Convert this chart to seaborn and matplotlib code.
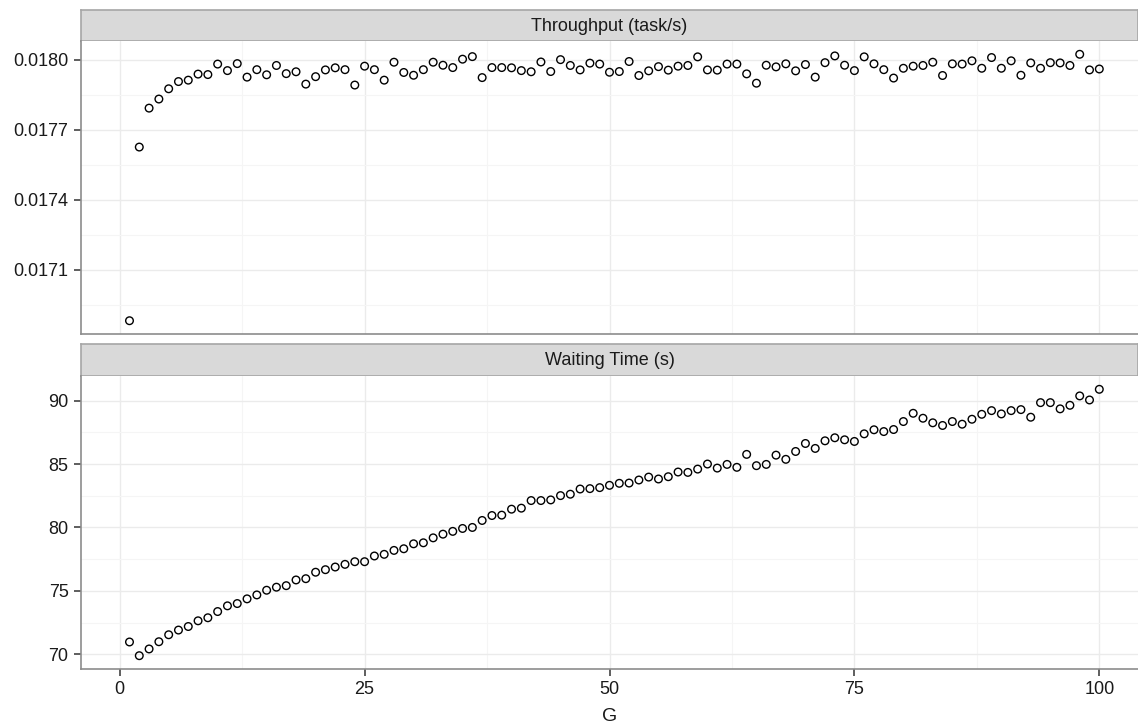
import matplotlib
matplotlib.use("Agg")
import matplotlib.pyplot as plt
import seaborn as sns
import numpy as np
import pandas as pd
from matplotlib.ticker import FixedLocator, FormatStrFormatter

G = list(range(1, 101))

throughput = [
    0.016881, 0.017626, 0.017793, 0.017832, 0.017876, 0.017907, 0.017913, 0.017939, 0.017937, 0.017982,
    0.017954, 0.017984, 0.017926, 0.017958, 0.017936, 0.017976, 0.017941, 0.017949, 0.017896, 0.017928,
    0.017957, 0.017966, 0.017958, 0.017892, 0.017973, 0.017958, 0.017913, 0.017990, 0.017946, 0.017934,
    0.017958, 0.017990, 0.017977, 0.017967, 0.018003, 0.018014, 0.017924, 0.017967, 0.017967, 0.017966,
    0.017954, 0.017949, 0.017991, 0.017950, 0.018001, 0.017976, 0.017957, 0.017986, 0.017982, 0.017947,
    0.017950, 0.017993, 0.017933, 0.017953, 0.017971, 0.017956, 0.017973, 0.017976, 0.018013, 0.017957,
    0.017956, 0.017982, 0.017982, 0.017940, 0.017900, 0.017977, 0.017970, 0.017983, 0.017953, 0.017980,
    0.017926, 0.017988, 0.018017, 0.017977, 0.017954, 0.018013, 0.017983, 0.017958, 0.017922, 0.017964,
    0.017973, 0.017976, 0.017990, 0.017933, 0.017983, 0.017982, 0.017996, 0.017964, 0.018010, 0.017964,
    0.017996, 0.017934, 0.017987, 0.017964, 0.017988, 0.017987, 0.017976, 0.018024, 0.017957, 0.017961,
]

waiting = [
    70.97, 69.89, 70.42, 70.99, 71.54, 71.91, 72.19, 72.64, 72.88, 73.37,
    73.82, 74.00, 74.37, 74.68, 75.05, 75.29, 75.41, 75.86, 75.96, 76.47,
    76.67, 76.88, 77.09, 77.30, 77.30, 77.75, 77.88, 78.19, 78.32, 78.71,
    78.79, 79.18, 79.47, 79.69, 79.92, 80.00, 80.55, 80.94, 80.97, 81.44,
    81.52, 82.12, 82.12, 82.17, 82.51, 82.62, 83.03, 83.06, 83.14, 83.32,
    83.48, 83.50, 83.74, 83.97, 83.82, 84.00, 84.37, 84.34, 84.60, 85.00,
    84.68, 84.97, 84.74, 85.76, 84.87, 84.97, 85.70, 85.37, 85.99, 86.62,
    86.23, 86.83, 87.07, 86.91, 86.78, 87.38, 87.70, 87.56, 87.72, 88.35,
    89.00, 88.61, 88.25, 88.04, 88.35, 88.14, 88.53, 88.92, 89.21, 88.95,
    89.21, 89.29, 88.69, 89.84, 89.84, 89.35, 89.63, 90.37, 90.05, 90.89,
]

panel_titles = ["Throughput (task/s)", "Waiting Time (s)"]
x_ticks = [0, 25, 50, 75, 100]
top_ticks = [0.0171, 0.0174, 0.0177, 0.0180]
bottom_ticks = [70, 75, 80, 85, 90]

sns.set_theme(style="white")
plt.rcParams["font.family"] = ["Liberation Sans", "DejaVu Sans"]

W, H = 1138, 725
fig = plt.figure(figsize=(W / 100, H / 100), dpi=100)

def fx(px):
    return px / W

def fy(px):
    return 1 - px / H

left = fx(81)
width = 1 - left

# top strip, panel, bottom strip, panel (pixel tops/bottoms)
layout = [((10, 41), (41, 334)), ((344, 376), (376, 669))]

df_top = pd.DataFrame({"G": G, "value": throughput})
df_bot = pd.DataFrame({"G": G, "value": waiting})
datasets = [df_top, df_bot]
ylims = [(0.016824, 0.018081), (68.84, 91.94)]
yticks = [top_ticks, bottom_ticks]
fmts = ["%.4f", "%d"]

grid_major = "#EBEBEB"
grid_minor = "#F5F5F5"
spine_c = "#8C8C8C"
text_c = "#1A1A1A"

axes = []
for i, ((s0, s1), (p0, p1)) in enumerate(layout):
    sax = fig.add_axes([left, fy(s1), width, (s1 - s0) / H])
    sax.set_facecolor("#D9D9D9")
    sax.set_xticks([])
    sax.set_yticks([])
    for sp in sax.spines.values():
        sp.set_visible(True)
        sp.set_color("#A6A6A6")
        sp.set_linewidth(1.2)
    sax.text(0.5, 0.47, panel_titles[i], ha="center", va="center",
             fontsize=13, color=text_c, transform=sax.transAxes)

    ax = fig.add_axes([left, fy(p1), width, (p1 - p0) / H])
    ax.set_facecolor("white")
    sns.scatterplot(data=datasets[i], x="G", y="value", ax=ax, marker="o",
                    s=30, facecolor="none", edgecolor="black", linewidth=1.0,
                    legend=False, zorder=3)
    ax.set_xlim(-3.95, 103.95)
    ax.set_ylim(*ylims[i])
    ax.xaxis.set_major_locator(FixedLocator(x_ticks))
    ax.xaxis.set_minor_locator(FixedLocator([12.5, 37.5, 62.5, 87.5]))
    yt = yticks[i]
    step = yt[1] - yt[0]
    ax.yaxis.set_major_locator(FixedLocator(yt))
    ax.yaxis.set_minor_locator(FixedLocator([yt[0] - step / 2] + [t + step / 2 for t in yt]))
    ax.yaxis.set_major_formatter(FormatStrFormatter(fmts[i]))
    ax.grid(which="major", color=grid_major, linewidth=1.0, zorder=0)
    ax.grid(which="minor", color=grid_minor, linewidth=0.8, zorder=0)
    ax.set_axisbelow(True)
    for name, sp in ax.spines.items():
        if name in ("left", "bottom"):
            sp.set_visible(True)
            sp.set_color(spine_c)
            sp.set_linewidth(1.2)
        else:
            sp.set_visible(False)
    ax.tick_params(axis="both", which="major", direction="out", length=5, width=1.1,
                   color="#333333", labelsize=13, labelcolor=text_c, pad=4,
                   left=True, bottom=(i == 1))
    ax.tick_params(axis="both", which="minor", length=0)
    ax.set_ylabel("")
    if i == 0:
        ax.set_xticklabels([])
        ax.set_xlabel("")
    else:
        ax.set_xlabel("G", fontsize=14, color=text_c, labelpad=7)
    axes.append(ax)

fig.savefig("out.png", dpi=100)
